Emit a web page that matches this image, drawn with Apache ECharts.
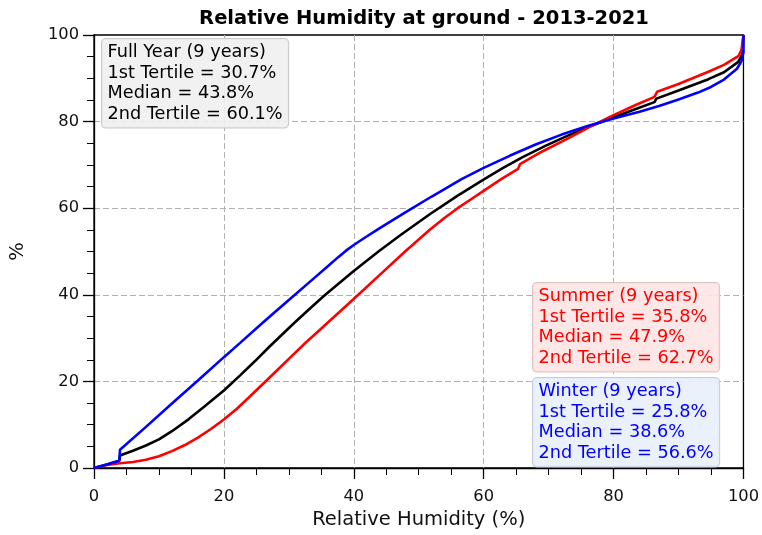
<!DOCTYPE html>
<html>
<head>
<meta charset="utf-8">
<title>Relative Humidity at ground - 2013-2021</title>
<script src="https://cdn.jsdelivr.net/npm/echarts@6/dist/echarts.min.js"></script>
<style>
  html, body { margin: 0; padding: 0; background: #ffffff; }
  #chart { width: 762px; height: 535px; }
</style>
</head>
<body>
<div id="chart"></div>
<script>
// Cumulative distribution of ground relative humidity: [RH (%), cumulative share (%)]
const fullYearCdf = [
  [0, 0], [2, 0.8], [3.9, 1.7], [4.0, 2.9], [6, 4.0], [8, 5.2], [10, 6.6], [12, 8.5],
  [14.6, 11.3], [17, 14.2], [20, 17.9], [22.5, 21.4], [24.8, 24.7], [27, 28.0],
  [30.7, 33.3], [33, 36.5], [35.3, 39.6], [37.5, 42.4], [39.9, 45.4], [43.8, 50],
  [47.1, 53.7], [51.7, 58.6], [56, 62.9], [60.1, 66.7], [63, 69.3], [66, 71.8],
  [69.5, 74.4], [72.7, 76.6], [76, 78.7], [80, 81.0], [83, 82.7], [86.3, 84.5],
  [86.6, 85.3], [90, 87.2], [94.6, 89.8], [97, 91.4], [99.2, 93.8], [99.8, 95.5], [100, 100]
];
const summerCdf = [
  [0, 0], [2, 0.7], [4, 1.1], [6, 1.4], [8, 1.9], [10, 2.7], [12, 3.9], [14, 5.3],
  [16, 7.0], [18, 9.0], [20, 11.2], [22, 13.7], [24, 16.5], [26, 19.4], [28, 22.3],
  [30, 25.2], [32.5, 28.8], [35.8, 33.3], [39.9, 38.9], [44, 44.6], [47.9, 50],
  [51.7, 55.0], [54, 57.8], [56, 60.0], [58, 62.0], [60.1, 64.1], [62.7, 66.7],
  [65.3, 69.1], [65.6, 70.2], [69, 73.1], [72.7, 75.9], [77, 79.3], [80, 81.5],
  [83.5, 83.9], [86.3, 85.7], [86.7, 86.9], [90, 88.7], [94.6, 91.5], [97, 93.1],
  [99.2, 95.1], [99.7, 96.6], [100, 100]
];
const winterCdf = [
  [0, 0], [2, 0.8], [3.9, 1.7], [4.0, 4.2], [8, 9.5], [12, 14.9], [16, 20.2],
  [20, 25.6], [22.5, 28.9], [25.8, 33.3], [28, 36.2], [30, 38.8], [33, 42.7],
  [36, 46.6], [37.6, 48.7], [38.8, 50.2], [40, 51.5], [41.5, 53.0], [44, 55.4],
  [48, 59.1], [52, 62.7], [56.6, 66.7], [60, 69.3], [64, 72.1], [68, 74.7], [72, 77.0],
  [76, 79.0], [80, 80.7], [84, 82.3], [87, 83.6], [90, 85.1], [93, 86.7], [95, 88],
  [97, 89.7], [99, 92.2], [99.7, 94], [100, 96], [100, 100]
];

// Summary statistics per period
const periodNames = ['Full Year', 'Summer', 'Winter'];
const yearCount = 9;
const firstTertile = [30.7, 35.8, 25.8];
const medianValue = [43.8, 47.9, 38.6];
const secondTertile = [60.1, 62.7, 56.6];

const FONT = 'DejaVu Sans';

function statsText(i) {
  return periodNames[i] + ' (' + yearCount + ' years)\n' +
    '1st Tertile = ' + firstTertile[i].toFixed(1) + '%\n' +
    'Median = ' + medianValue[i].toFixed(1) + '%\n' +
    '2nd Tertile = ' + secondTertile[i].toFixed(1) + '%';
}

function statsBox(i, left, top, color, fill, border) {
  return {
    type: 'text',
    left: left,
    top: top,
    z: 100,
    style: {
      text: statsText(i),
      fill: color,
      font: '17.7px "' + FONT + '"',
      lineHeight: 20.4,
      backgroundColor: fill,
      borderColor: border,
      borderWidth: 1,
      borderRadius: 4,
      padding: [3.5, 5.5, 3.5, 5.5]
    }
  };
}

const chart = echarts.init(document.getElementById('chart'), null, { renderer: 'canvas' });

const axisCommon = {
  type: 'value',
  min: 0,
  max: 100,
  interval: 20,
  axisLine: { show: true, lineStyle: { color: '#000', width: 1.3 } },
  axisTick: { show: true, length: 11, lineStyle: { color: '#000', width: 1.3 } },
  minorTick: { show: true, splitNumber: 4, length: 7, lineStyle: { color: '#000', width: 1 } },
  splitLine: {
    show: true, showMinLine: false, showMaxLine: false,
    lineStyle: { color: '#b0b0b0', width: 1, type: [6, 3] }
  },
  axisLabel: { color: '#111', fontFamily: FONT, fontSize: 16.3 },
  nameTextStyle: { color: '#111', fontFamily: FONT, fontSize: 19.5 },
  nameLocation: 'middle'
};

chart.setOption({
  animation: false,
  backgroundColor: '#ffffff',
  title: {
    text: 'Relative Humidity at ground - 2013-2021',
    left: 419,
    textAlign: 'center',
    top: 4,
    textStyle: { fontFamily: FONT, fontWeight: 'bold', fontSize: 19.5, color: '#000' }
  },
  grid: {
    left: 93, right: 17, top: 35, bottom: 66,
    show: true, borderColor: '#000', borderWidth: 1.3, backgroundColor: 'transparent'
  },
  xAxis: Object.assign({}, axisCommon, {
    name: 'Relative Humidity (%)',
    nameGap: 42,
    axisLabel: Object.assign({}, axisCommon.axisLabel, { margin: 21 })
  }),
  yAxis: Object.assign({}, axisCommon, {
    name: '%',
    nameGap: 66,
    axisLabel: Object.assign({}, axisCommon.axisLabel, { margin: 15 })
  }),
  series: [
    { name: 'Full Year', type: 'line', data: fullYearCdf, showSymbol: false,
      lineStyle: { color: '#000000', width: 2.6 }, itemStyle: { color: '#000000' }, z: 3 },
    { name: 'Summer', type: 'line', data: summerCdf, showSymbol: false,
      lineStyle: { color: '#ff0000', width: 2.6 }, itemStyle: { color: '#ff0000' }, z: 4 },
    { name: 'Winter', type: 'line', data: winterCdf, showSymbol: false,
      lineStyle: { color: '#0000ff', width: 2.6 }, itemStyle: { color: '#0000ff' }, z: 5 }
  ],
  graphic: [
    statsBox(0, 101, 38, '#000000', 'rgba(240,240,240,0.9)', '#c8c8c8'),
    statsBox(1, 532, 282, '#ff0000', 'rgba(253,228,228,0.9)', '#dcc4c4'),
    statsBox(2, 532, 377, '#0000ff', 'rgba(233,240,250,0.9)', '#c4cbdc')
  ]
});
</script>
</body>
</html>
